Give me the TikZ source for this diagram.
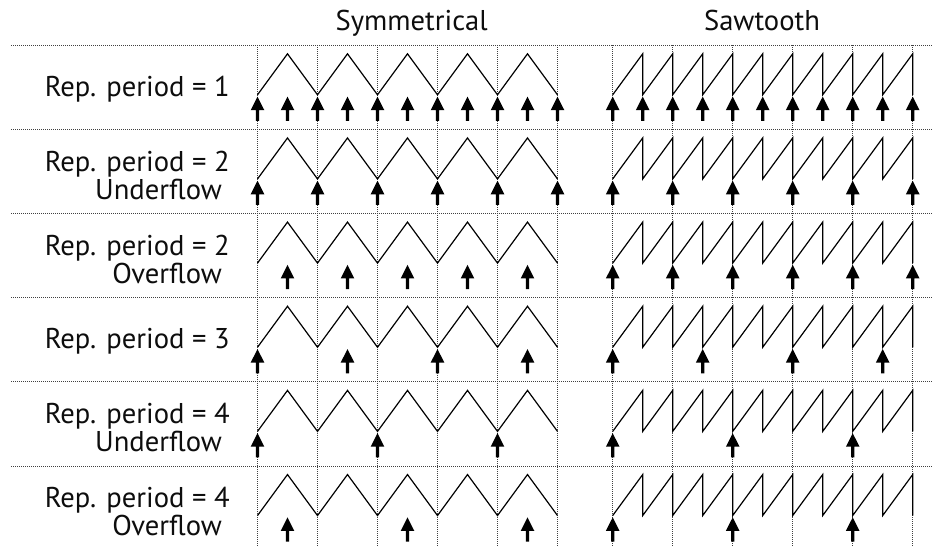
\documentclass[tikz,border=0pt]{standalone}
\usepackage{fontspec}
\setmainfont{PT Sans}
\newcommand\trigarrow[2]{\fill[black] ({#1-1.7},{#2+75.5}) -- ({#1-1.7},{#2+64.8}) -- ({#1-6.8},{#2+64.8}) -- ({#1},{#2+51.3}) -- ({#1+6.8},{#2+64.8}) -- ({#1+1.7},{#2+64.8}) -- ({#1+1.7},{#2+75.5}) -- cycle;}
\begin{document}
\begin{tikzpicture}[x=1pt,y=-1pt,
  grid/.style={line width=0.9pt, black!75, dash pattern=on 1pt off 1pt},
  wave/.style={line width=1.2pt, black, line join=miter},
  lbl/.style={font=\fontsize{28.6}{30}\selectfont, inner sep=0pt, text=black!95}]
\useasboundingbox (0,0) rectangle (932,546);
% grid
\foreach \k in {0,...,5} {
  \draw[grid] (11,{45.3+84.15*\k}) -- (932,{45.3+84.15*\k});
}
\foreach \j in {0,...,5} {
  \draw[grid] ({257.5+60*\j},45.3) -- ({257.5+60*\j},546);
  \draw[grid] ({612.7+60*\j},45.3) -- ({612.7+60*\j},546);
}
% waves
\foreach \k in {0,...,5} {
  \pgfmathsetmacro\yy{45.3+84.15*\k}
  \draw[wave] (257.5,{\yy+49.5}) foreach \i in {0,...,4} { -- ({287.5+60*\i},{\yy+8.5}) -- ({317.5+60*\i},{\yy+49.5}) };
  \draw[wave] (612.7,{\yy+49.5}) foreach \i in {0,...,9} { -- ({642.7+30*\i},{\yy+8.5}) -- ({642.7+30*\i},{\yy+49.5}) };
}
% arrows
\foreach \k/\syml/\sawl in {0/{0,1,...,10}/{0,1,...,10}, 1/{0,2,...,10}/{0,2,...,10}, 2/{1,3,...,9}/{0,2,...,10}, 3/{0,3,6,9}/{0,3,6,9}, 4/{0,4,8}/{0,4,8}, 5/{1,5,9}/{0,4,8}} {
  \pgfmathsetmacro\yy{45.3+84.15*\k}
  \foreach \i in \syml { \trigarrow{257.5+30*\i}{\yy} }
  \foreach \i in \sawl { \trigarrow{612.7+30*\i}{\yy} }
}
% headers
\node[lbl, anchor=base] (hsym) at (411.7,30.7) {Symmetrical};
\node[lbl, anchor=base] (hsaw) at (762,30.7) {Sawtooth};
% row labels
\node[lbl, anchor=base east] (l1) at (230,{45.3+51}) {Rep. period = 1};
\node[lbl, anchor=base east] (l2) at (230,{129.45+41.6}) {Rep. period = 2};
\node[lbl, anchor=base east] (l2b) at (222,{129.45+69.9}) {Underflow};
\node[lbl, anchor=base east] (l3) at (230,{213.6+41.6}) {Rep. period = 2};
\node[lbl, anchor=base east] (l3b) at (222,{213.6+69.9}) {Overflow};
\node[lbl, anchor=base east] (l4) at (230,{297.75+50.5}) {Rep. period = 3};
\node[lbl, anchor=base east] (l5) at (230,{381.9+41.6}) {Rep. period = 4};
\node[lbl, anchor=base east] (l5b) at (222,{381.9+69.9}) {Underflow};
\node[lbl, anchor=base east] (l6) at (230,{466.05+41.6}) {Rep. period = 4};
\node[lbl, anchor=base east] (l6b) at (222,{466.05+69.9}) {Overflow};
\end{tikzpicture}
\end{document}
